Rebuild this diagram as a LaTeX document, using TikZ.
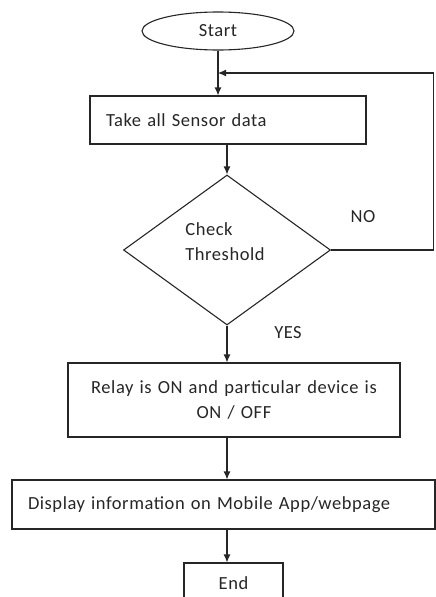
\documentclass[tikz,border=0pt]{standalone}
\usepackage{fontspec}
\setmainfont[LetterSpace=3]{Carlito}
\usetikzlibrary{shapes.geometric, arrows.meta}
\tikzset{every node/.style={font=\fontsize{18.5}{25}\selectfont, text=black!85},
    terminal/.style={draw,ellipse,minimum width=152pt,minimum height=38pt,inner sep=0pt},
    process/.style={draw,rectangle,inner sep=0pt},
    decision/.style={draw,diamond,minimum width=207pt,minimum height=150pt,inner sep=0pt},
    flow/.style={draw,-{Latex[length=8pt,width=7pt]}}}

\begin{document}
\begin{tikzpicture}[x=1pt, y=-1pt, line width=1.1pt, draw=black!85]
    \useasboundingbox (0,0) rectangle (436,597);
    \clip (0,0) rectangle (436,597);
    \node[terminal] (start) at (218,31) {Start};
    \node[process, minimum width=276pt, minimum height=48pt, text width=244pt, align=left] (sensor) at (228,120) {Take all Sensor data};
    \node[decision] (check) at (227,250) {};
    \node[align=left, inner sep=0pt] (checktext) at (225,242) {Check\\Threshold};
    \node[process, minimum width=332pt, minimum height=74pt, text width=300pt, align=center] (relay) at (234,400) {Relay is ON and particular device is\\ON / OFF};
    \node[process, minimum width=423pt, minimum height=49pt, text width=391pt, align=left] (display) at (223.5,504.5) {Display information on Mobile App/webpage};
    \node[process, minimum width=99pt, minimum height=40pt] (end) at (233.5,583) {End};
    \node (no) at (363,217) {NO};
    \node (yes) at (288,333) {YES};
    \coordinate (join) at (218,73);
    \draw[flow] (start) -- (start |- sensor.north);
    \draw[flow] (check.east) -- ++(102,0) |- (join);
    \draw[flow] (sensor.south -| check) -- (check.north);
    \draw[flow] (check.south) -- (check.south |- relay.north);
    \draw[flow] (check.south |- relay.south) -- (check.south |- display.north);
    \draw[flow] (check.south |- display.south) -- (check.south |- end.north);
\end{tikzpicture}
\end{document}
